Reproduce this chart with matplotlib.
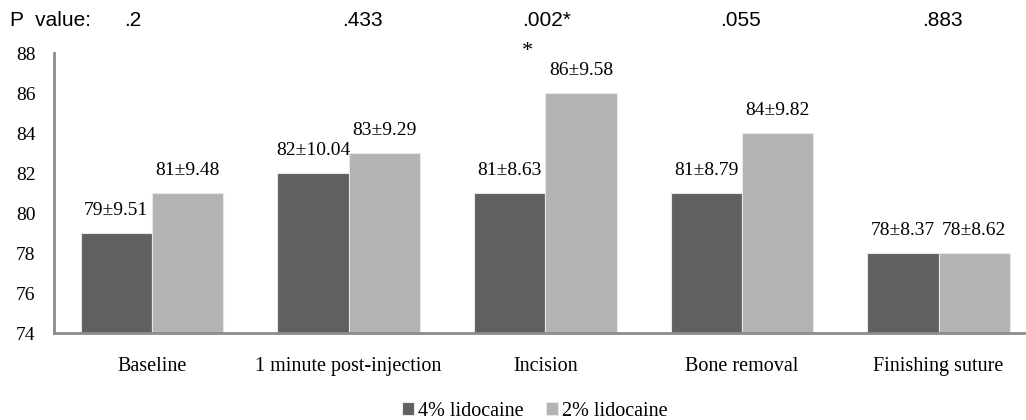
import matplotlib
matplotlib.use("Agg")
import matplotlib.pyplot as plt
import numpy as np
from matplotlib.font_manager import FontProperties

categories = ["Baseline", "1 minute post-injection", "Incision", "Bone removal", "Finishing suture"]
lido4 = [79, 82, 81, 81, 78]
lido2 = [81, 83, 86, 84, 78]
lido4_sd = ["9.51", "10.04", "8.63", "8.79", "8.37"]
lido2_sd = ["9.48", "9.29", "9.58", "9.82", "8.62"]
p_values = [".2", ".433", ".002*", ".055", ".883"]
series_names = ["4% lidocaine", "2% lidocaine"]
yticks = [74, 76, 78, 80, 82, 84, 86, 88]

dark = "#5f605f"
light = "#b3b3b3"
serif = "Liberation Serif"
narrow = ["Liberation Sans Narrow", "Liberation Sans", "DejaVu Sans"]

W, H = 1026, 420
fig = plt.figure(figsize=(W / 100, H / 100), dpi=100)
ax = fig.add_axes([53.6 / W, (H - 333) / H, (1037 - 53.6) / W, (333 - 53) / H])

x = np.arange(len(categories))
bw = 0.363
b1 = ax.bar(x - bw / 2, lido4, bw, color=dark, edgecolor="#e8e8e8", linewidth=0.8,
            label=series_names[0], zorder=2)
b2 = ax.bar(x + bw / 2, lido2, bw, color=light, edgecolor="#e8e8e8", linewidth=0.8,
            label=series_names[1], zorder=2)

ax.set_ylim(74, 88)
ax.set_xlim(-0.5, 4.5)
ax.set_yticks(yticks)
ax.set_yticklabels([str(v) for v in yticks], fontfamily=serif, fontsize=14)
ax.set_xticks(x)
ax.set_xticklabels(categories, fontfamily=serif, fontsize=14.5)
ax.tick_params(axis="both", length=0)
ax.tick_params(axis="x", pad=17)
ax.tick_params(axis="y", pad=20)
for lbl in ax.get_yticklabels():
    lbl.set_horizontalalignment("center")
for s in ["top", "right"]:
    ax.spines[s].set_visible(False)
for s in ["left", "bottom"]:
    ax.spines[s].set_color("#8c8c8c")
    ax.spines[s].set_linewidth(2)

for i in range(len(categories)):
    ax.annotate(f"{lido4[i]}\u00b1{lido4_sd[i]}", (x[i] - bw / 2, lido4[i]), xytext=(0, 10),
                textcoords="offset points", ha="center", va="bottom", fontfamily=serif, fontsize=14)
    ax.annotate(f"{lido2[i]}\u00b1{lido2_sd[i]}", (x[i] + bw / 2, lido2[i]), xytext=(0, 10),
                textcoords="offset points", ha="center", va="bottom", fontfamily=serif, fontsize=14)

# asterisk above Incision
ax.annotate("*", (x[2], lido2[2]), xytext=(-13, 23), textcoords="offset points",
            ha="center", va="bottom", fontfamily=serif, fontsize=16)

# P value row
fig.text(10 / W, 1 - 20 / H, "P  value:", family=narrow, fontsize=15, ha="left", va="center")
p_x = [133, 362, 547, 741, 942]
for px, pv in zip(p_x, p_values):
    fig.text(px / W, 1 - 20 / H, pv, family=narrow, fontsize=15, ha="center", va="center")

leg = fig.legend(handles=[b1, b2], labels=series_names, loc="center", bbox_to_anchor=(535 / W, 1 - 411 / H),
                 ncol=2, frameon=False, prop=FontProperties(family=serif, size=14.5),
                 handlelength=0.6, handleheight=0.6, handletextpad=0.2, columnspacing=1.1)

fig.savefig("out.png", dpi=100)
